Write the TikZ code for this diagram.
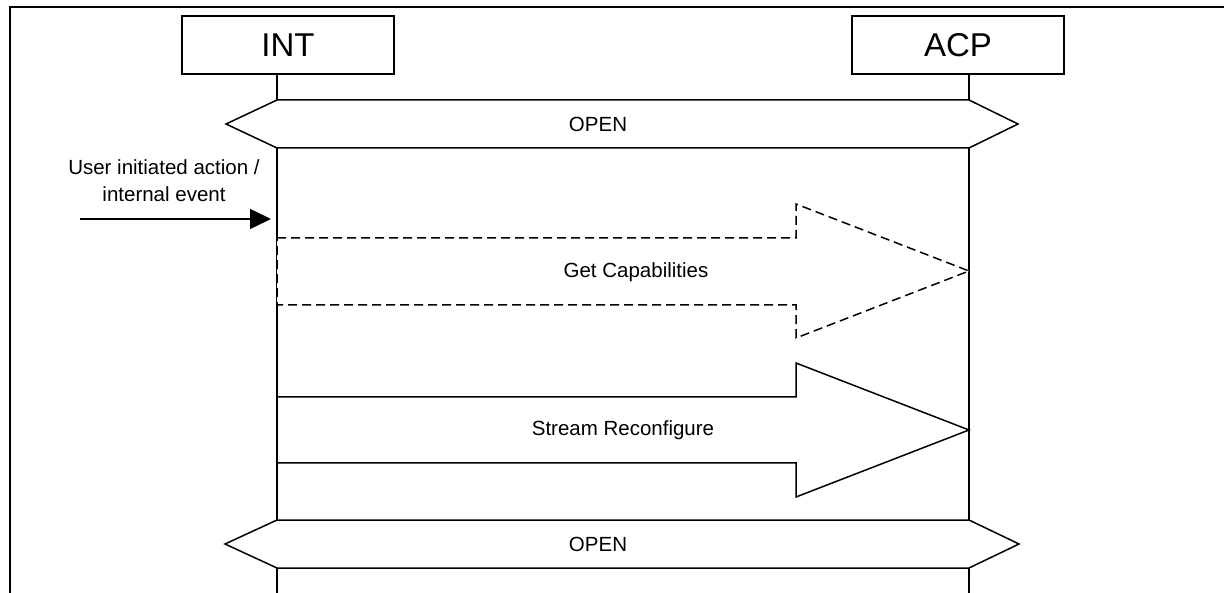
\documentclass[tikz,border=0pt]{standalone}
\usepackage{fontspec}
\setmainfont{Liberation Sans}
\usetikzlibrary{arrows.meta}
\begin{document}
\begin{tikzpicture}[x=1pt,y=-1pt,
  line/.style={line width=1.5pt, line join=miter},
  entity/.style={draw, line width=1.5pt, rectangle, minimum width=212pt, minimum height=58pt, inner sep=0pt, font=\fontsize{33}{36}\selectfont},
  lbl/.style={inner sep=0pt, font=\fontsize{20.5}{25}\selectfont, align=center},
  dashline/.style={line width=1.5pt, dash pattern=on 9pt off 5pt}]
\useasboundingbox (0,0) rectangle (1224,593);
% frame
\draw[line width=2pt] (10,593) -- (10,7) -- (1224,7);
% entities
\node[entity] (INT) at (288,45) {INT};
\node[entity] (ACP) at (958,45) {ACP};
% lifeline coordinates
\coordinate (i0) at (277,74);  \coordinate (a0) at (969,74);
\coordinate (i1) at (277,100); \coordinate (a1) at (969,100);
\coordinate (i2) at (277,148); \coordinate (a2) at (969,148);
\coordinate (i3) at (277,520); \coordinate (a3) at (969,520);
\coordinate (i4) at (277,568); \coordinate (a4) at (969,568);
\coordinate (i5) at (277,593); \coordinate (a5) at (969,593);
\draw[line] (i0) -- (i1); \draw[line] (a0) -- (a1);
\draw[line] (i2) -- (i3); \draw[line] (a2) -- (a3);
\draw[line] (i4) -- (i5); \draw[line] (a4) -- (a5);
% OPEN hexagons
\draw[line] (i1) -- (a1) -- (1018,124) -- (a2) -- (i2) -- (226,124) -- cycle;
\node[lbl] (open1) at (598,124) {OPEN};
\draw[line] (i3) -- (a3) -- (1019,544) -- (a4) -- (i4) -- (225,544) -- cycle;
\node[lbl] (open2) at (598,544) {OPEN};
% user event
\node[lbl] (userev) at (164,181) {User initiated action /\\[2pt]internal event};
\coordinate (evs) at (80,219);
\coordinate (eve) at (271,219);
\draw[line width=1.5pt, -{Triangle[length=21pt,width=20pt]}] (evs) -- (eve);
% Get Capabilities (dashed)
\draw[dashline, fill=white] (277,238) -- (796,238) -- (796,204) -- (969,271) -- (796,338) -- (796,305) -- (277,305) -- cycle;
\node[lbl] (getcap) at (636,272) {Get Capabilities};
% Stream Reconfigure (solid)
\draw[line, fill=white] (277,397) -- (796,397) -- (796,363) -- (969,430) -- (796,497) -- (796,463) -- (277,463) -- cycle;
\node[lbl] (streamrec) at (623,430) {Stream Reconfigure};
\end{tikzpicture}
\end{document}
